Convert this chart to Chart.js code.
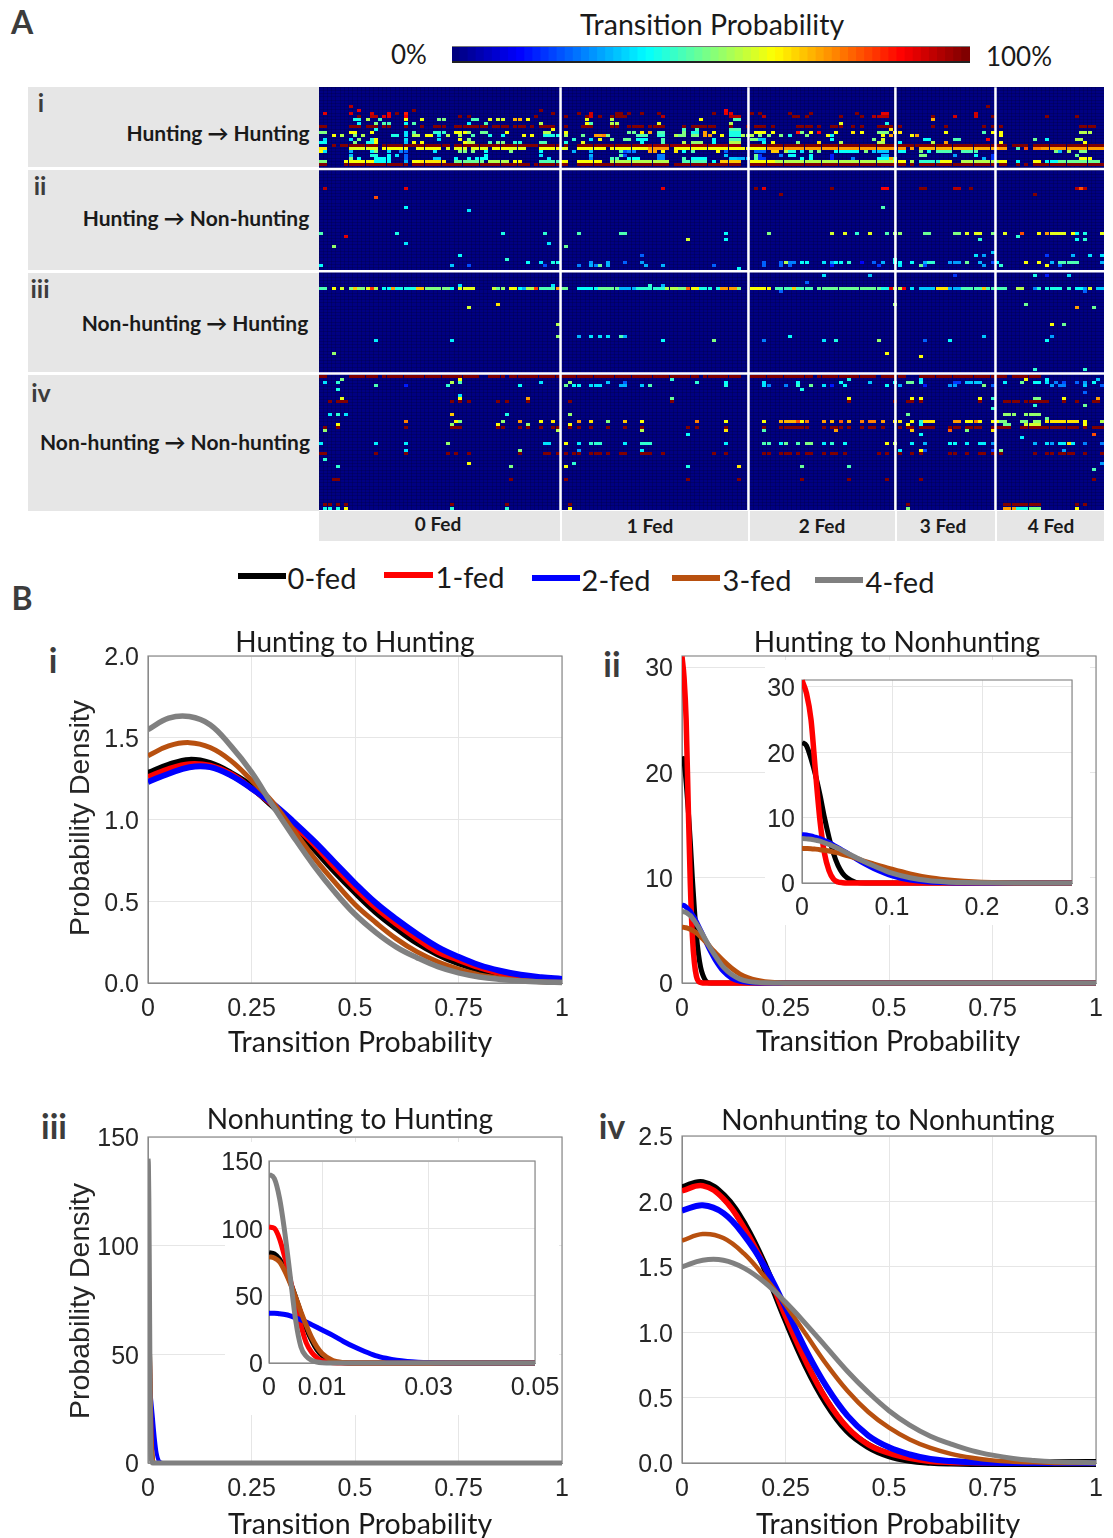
<!DOCTYPE html>
<html><head><meta charset="utf-8">
<script src="https://cdn.jsdelivr.net/npm/chart.js@4"></script>
<style>
html,body{margin:0;padding:0;background:#fff;width:1113px;height:1538px;overflow:hidden}
#stage{position:relative;width:1113px;height:1538px;overflow:hidden}
.t{position:absolute;white-space:nowrap;transform:translate(-50%,-50%);line-height:1}
.box{position:absolute}
canvas{position:absolute;display:block}
</style></head><body><div id="stage"></div>
<script>
/* ---------- heat-map data: [row, col,len,value, col,len,value, ...] ---------- */
const cellsHuntHunt=[
[6,7,1,95,158,1,100],
[7,9,1,90,22,1,100,52,1,100,96,1,88],
[8,1,1,90,7,1,92,12,1,92,16,1,90,18,1,100,20,1,85,55,1,100,61,1,100,64,1,92,70,2,100,73,1,100,76,1,100,80,1,100,93,1,100,96,2,90,102,1,100,104,1,100,111,1,100,116,1,100,127,1,100,133,2,90,155,1,92],
[9,9,1,100,12,2,95,15,2,90,20,1,88,33,1,100,35,1,100,51,1,100,58,1,100,63,1,100,64,1,92,66,1,100,69,4,100,81,1,95,97,3,95,105,1,95,112,2,100,115,1,100,123,1,100,128,1,100,131,4,95,145,1,100,150,1,92,155,1,92,159,1,100,172,1,100,179,1,100],
[10,8,2,40,11,1,55,14,1,45,20,1,62,24,1,60,28,2,50,36,2,45,40,1,60,42,2,58,46,2,70,49,1,62,63,1,60,69,1,55,90,1,62,98,2,45,145,1,70],
[11,9,1,38,13,1,50,15,2,45,20,1,38,22,1,45,35,1,38,39,1,45,52,1,55,63,1,62,64,1,45,69,2,55,80,1,60,97,1,55,123,1,60,134,1,40],
[12,0,2,100,7,3,100,11,3,100,15,2,100,20,1,100,24,1,100,27,3,100,32,3,100,35,5,100,41,3,100,44,1,100,46,3,100,50,1,100,52,4,100,58,1,100,62,3,100,69,2,100,73,3,100,76,1,100,78,4,100,86,1,100,88,6,100,97,1,100,101,1,100,103,3,100,107,1,100,113,3,100,116,1,100,118,1,100,121,3,100,126,1,100,128,1,100,132,4,100,137,1,100,145,1,100,148,1,100,157,1,100,159,1,100,161,1,100,180,4,100],
[13,13,1,40,55,1,62,86,1,45,89,1,45,97,3,45,135,1,65],
[14,0,2,50,7,2,62,12,1,62,20,1,35,22,1,45,27,3,42,32,3,62,35,1,52,38,2,48,44,1,62,53,2,55,58,1,62,73,2,48,76,1,65,78,1,72,80,2,45,86,1,50,88,2,40,91,1,72,93,1,62,97,3,40,103,3,62,107,1,62,113,1,85,114,1,50,116,1,62,118,1,88,122,1,62,126,1,65,128,1,62,132,3,50,136,2,65,148,1,62,157,1,45,159,1,62,161,1,62,180,3,55],
[15,3,1,62,5,1,55,8,1,50,10,1,55,17,2,40,20,1,35,22,2,55,25,2,62,28,1,35,30,1,55,33,1,55,36,1,45,40,1,40,43,1,38,48,1,62,50,1,62,53,4,40,58,1,55,62,1,48,65,2,72,67,1,75,68,1,50,75,3,45,80,2,42,84,1,55,85,2,50,88,2,50,91,2,72,95,1,62,97,3,40,100,3,55,104,1,50,106,1,50,109,1,50,111,1,40,115,1,50,120,1,62,121,1,38,133,1,62,135,1,72,140,1,62,141,1,72,161,1,62],
[16,1,1,35,7,1,35,9,1,50,12,1,42,13,1,62,20,1,35,28,1,35,33,1,62,35,1,50,60,1,42,64,1,35,66,1,62,69,1,50,72,2,48,75,3,38,81,1,45,93,1,38,97,3,45,102,2,50,104,2,32,121,1,38,131,1,50,133,1,60,143,2,38,150,2,45,158,1,88,169,1,48,172,1,38,179,2,55],
[17,0,2,38,8,1,50,11,2,40,13,1,62,20,1,32,22,1,62,24,1,62,34,1,62,35,2,55,40,1,45,42,2,50,46,2,42,52,2,45,58,1,40,62,1,60,76,1,38,81,1,45,86,1,55,88,3,52,93,1,38,97,3,55,105,1,38,107,1,62,113,1,50,118,1,65,123,1,55,132,2,55,137,1,38,145,1,55,148,1,72,161,1,62,181,1,62],
[18,3,1,100,5,9,100,15,16,100,32,13,100,45,12,100,58,1,100,61,17,100,78,22,98,102,35,100,137,3,100,140,23,100,164,4,100,169,2,100,171,15,100],
[19,0,2,65,7,7,60,15,6,62,23,6,62,30,1,60,32,3,60,36,4,60,41,4,62,45,4,60,52,5,62,57,2,60,61,7,62,69,9,62,78,5,72,84,16,62,100,6,62,106,30,72,136,3,72,140,1,72,142,19,70,161,2,72,165,1,45,167,1,80,169,2,75,171,15,72],
[20,0,1,62,1,1,35,7,1,30,12,1,38,13,1,50,16,1,35,19,1,25,20,1,22,27,1,35,33,2,50,36,1,50,39,1,38,45,1,50,52,1,38,60,1,30,64,1,30,71,1,45,72,1,20,73,2,25,78,2,72,81,1,62,84,1,65,86,1,38,88,1,45,94,1,62,96,1,22,103,3,22,107,2,68,110,1,55,111,2,40,114,1,35,116,1,45,118,1,50,122,6,38,129,1,50,131,4,32,137,2,38,142,1,50,144,1,38,146,4,45,152,4,45,174,1,50,175,1,30,177,1,55,180,2,50],
[21,7,1,32,12,2,40,16,1,38,18,1,35,20,1,22,39,1,38,52,1,35,64,1,30,71,1,45,72,1,20,80,2,25,96,1,32,103,1,48,104,1,18,109,1,25,111,2,38,116,1,38,121,1,15,133,2,30,142,2,50,150,1,28,155,1,38,159,1,18,179,1,48],
[22,7,1,50,9,1,38,13,4,38,20,1,22,27,2,32,32,1,38,35,1,38,37,3,38,54,1,35,64,1,25,69,2,45,73,3,38,80,2,25,86,1,45,88,4,38,97,3,32,99,3,30,103,1,45,104,2,18,114,1,38,116,1,38,121,1,15,126,1,25,132,3,38,135,1,70,136,1,50,157,1,30,159,1,18,180,3,62],
[23,0,2,50,6,7,62,13,4,38,20,1,30,22,2,62,24,6,65,32,7,48,40,5,55,46,2,62,52,5,45,57,2,62,61,6,62,69,14,55,86,6,45,93,1,38,95,5,68,102,6,62,108,28,55,136,3,62,140,1,55,142,5,42,147,3,62,152,9,55,161,2,62,165,1,38,169,2,62,172,3,38,175,10,48],
[24,0,2,100,6,15,100,22,18,100,40,9,100,49,1,100,51,6,100,57,2,100,61,7,100,68,15,100,84,16,100,102,34,100,136,3,100,140,1,100,142,18,100,161,2,100,165,1,100,167,1,100,169,2,100,171,15,100]
];
const cellsHuntNon=[
[31,1,1,95,20,1,90,81,1,90,103,1,100,105,1,90,121,1,100,133,2,88,142,2,100,150,2,95,154,1,100,179,1,95,180,1,80,181,1,95],
[33,109,1,100,169,1,100],
[34,13,1,80],
[37,20,1,37,133,1,45],
[38,35,1,35],
[45,0,1,45,18,1,40,43,1,40,53,1,42,61,1,45,71,2,45,96,1,38,106,1,50,121,1,58,124,1,60,127,1,42,130,1,60,134,1,45,136,2,52,143,2,48,150,2,50,153,1,60,155,2,60,159,1,50,162,1,60,166,1,80,170,1,62,172,1,72,173,4,60,178,1,62,179,1,38,181,1,40,185,1,60],
[46,6,1,90,165,1,42],
[47,87,1,58,96,1,38,156,1,42,179,1,38,181,1,42],
[48,20,1,35,54,1,35],
[49,3,1,52,58,1,48],
[51,159,1,32],
[52,33,1,38,76,1,22,155,1,35,157,1,28,172,1,18,178,1,30,182,1,35,185,1,35],
[53,44,1,42,136,1,40],
[54,49,1,38,52,1,35,55,2,40,64,1,28,68,1,30,72,1,22,76,1,28,105,1,22,109,1,22,110,1,55,111,2,25,114,2,38,119,1,35,121,1,28,122,2,38,125,1,42,128,1,12,131,1,22,133,1,30,136,2,38,140,1,38,143,1,30,144,2,42,149,3,28,153,1,48,156,1,30,159,1,20,160,1,38,167,1,62,170,1,62,173,1,30,175,5,45,185,1,30],
[55,0,1,38,31,1,32,35,1,20,53,1,20,61,1,25,64,1,30,65,1,25,66,1,48,68,1,30,77,1,30,81,1,30,93,1,22,105,1,22,109,1,22,111,1,22,121,1,15,132,1,18,137,1,35,142,1,48,143,1,20,157,1,28,161,1,42,172,1,62,175,1,22],
[56,99,1,38]
];
const cellsNonHunt=[
[58,119,1,35,130,1,32,150,1,18,169,1,40,172,1,15,177,1,35],
[60,115,1,22],
[61,33,1,35,55,1,35,78,1,42,81,1,30],
[62,0,2,45,3,1,62,5,1,58,7,1,50,8,1,68,9,1,52,10,1,50,11,1,60,12,1,82,13,1,55,15,2,38,17,1,72,18,5,40,23,2,68,25,6,50,31,1,38,33,4,60,41,1,58,42,1,48,43,1,52,45,2,62,47,1,38,48,1,30,49,2,55,51,1,82,52,4,45,56,1,72,57,2,48,61,5,38,66,5,48,71,4,30,75,7,42,82,3,55,85,2,50,87,1,78,88,2,62,90,1,40,91,2,40,94,1,40,95,4,72,99,1,50,102,5,62,108,4,45,112,1,68,113,4,45,118,15,48,133,2,40,135,1,90,136,2,55,138,1,88,140,1,35,142,5,32,146,3,65,149,3,30,152,5,45,157,1,68,158,5,45,165,2,55,169,1,25,170,1,42,172,4,40,177,1,42,179,2,38,181,1,28,182,1,60,184,2,32],
[63,109,1,22,181,1,22],
[67,42,1,65,136,1,52,167,1,48],
[68,35,1,58,179,1,72,183,1,48],
[73,56,1,55,173,1,62,176,1,48],
[77,56,1,52,61,1,30,64,1,35,66,1,35,68,1,35,71,1,45,72,1,30,111,1,38,157,1,32,173,1,28],
[78,13,1,36,31,1,36,81,1,38,93,1,50,105,1,25,119,1,35,122,1,40,132,1,52,143,1,22,149,1,38,172,1,38],
[82,3,1,52,134,1,62],
[83,142,1,62],
[87,169,1,42,181,1,42]
];
const cellsNonNon=[
[89,0,2,100,7,7,100,15,23,100,40,3,100,43,1,100,45,12,100,57,33,100,91,2,100,93,7,100,102,5,100,107,10,100,118,14,100,133,6,100,142,18,100,160,3,100,164,7,100],
[90,5,1,50,33,1,62,83,1,42,125,1,40,142,1,35,167,1,62,172,1,38,184,1,32],
[91,1,1,35,4,1,42,31,1,55,33,1,45,52,1,35,59,1,52,68,1,32,72,1,22,89,1,42,96,1,38,105,1,35,113,1,38,123,1,38,130,1,32,136,1,38,139,2,48,142,1,40,150,2,18,153,4,32,162,1,36,166,1,48,169,2,38,172,1,35,174,1,25,176,1,20,179,1,22,181,1,28,183,1,38],
[92,13,1,45,20,1,15,30,1,42,47,1,38,58,1,48,60,2,38,64,3,35,71,2,30,76,1,32,78,1,45,96,1,40,105,1,35,106,1,25,110,1,25,113,1,42,116,1,48,119,1,35,121,1,15,124,1,38,134,1,38,137,1,30,143,1,15,149,2,28,157,1,50,159,1,22,173,1,28,175,2,25,181,1,32,185,1,22],
[93,4,1,40,114,1,40],
[94,181,1,22],
[95,33,1,35],
[96,5,1,60,33,1,62,49,1,72,83,1,48,125,1,62,140,1,62,142,1,62,156,1,62,159,1,42,169,2,50,176,1,62,184,1,72],
[97,2,1,100,4,3,100,31,1,100,33,1,100,35,1,100,42,1,100,44,1,100,49,1,100,59,1,100,83,1,100,125,1,100,136,1,100,139,2,100,142,1,100,156,1,100,162,4,100,167,6,100,176,1,100,179,1,100,183,2,100],
[98,169,1,42,181,1,48],
[99,159,1,42],
[101,2,1,36,4,1,42,6,1,35,31,1,68,44,1,40,59,1,52,139,1,48,162,3,52,167,4,52],
[102,172,1,48],
[103,20,1,75,32,1,62,33,1,50,43,1,52,47,1,72,52,1,62,55,1,65,61,1,72,64,1,65,68,1,50,72,1,68,76,1,62,89,1,75,96,1,62,105,1,62,109,4,70,113,1,80,114,1,62,115,1,75,119,1,72,121,1,70,123,1,78,125,1,70,128,1,75,130,2,75,133,1,72,136,2,65,140,1,62,142,1,42,143,3,65,150,2,72,153,2,62,155,1,75,156,1,62,159,2,62,161,2,50,166,2,50,169,2,52,172,8,65,181,1,62,185,1,55],
[104,4,1,62,31,1,52,42,1,62,49,1,52,59,1,62,139,1,62,142,1,38,162,2,48,167,4,58,181,1,62],
[105,1,1,100,4,1,100,20,1,100,31,3,100,42,2,100,47,1,100,49,1,100,52,1,100,55,2,100,59,1,100,61,1,100,64,1,100,68,1,100,72,1,100,76,1,100,87,1,100,89,1,100,96,1,100,105,1,100,109,4,100,113,3,100,119,1,100,121,3,100,125,1,100,128,1,100,130,2,100,133,1,100,137,1,100,139,2,100,142,4,100,149,3,100,153,4,100,159,1,100,160,4,100,166,14,100,181,1,100,183,3,100],
[106,1,1,52,56,1,55,76,1,55,96,1,65,105,1,45,122,1,72,140,1,68,149,1,78,153,1,50,159,1,65],
[107,87,1,38,142,1,38,183,1,80],
[108,166,1,36],
[110,0,1,36,13,1,36,20,1,36,30,1,52,53,2,35,58,1,62,61,1,36,64,3,42,72,1,36,76,3,42,96,1,36,105,2,45,109,1,38,110,1,48,113,1,45,115,2,50,119,1,36,121,1,42,124,1,38,134,1,62,136,1,55,140,1,36,143,1,30,149,2,38,153,1,36,156,2,36,159,1,28,169,1,30,172,1,35,173,1,28,175,2,36,177,1,65,178,1,36,181,1,25,185,1,25],
[112,20,1,35,47,1,50,61,1,28,76,1,36,137,1,36,142,1,62,143,1,20,159,1,18,161,1,50,176,1,28],
[113,0,2,100,13,1,100,20,1,100,30,1,100,32,1,100,35,1,100,47,1,100,53,2,100,56,1,100,58,1,100,60,2,100,64,3,100,68,1,100,71,2,100,76,3,100,81,1,100,93,1,100,96,1,100,105,2,100,109,3,100,113,1,100,115,2,100,119,1,100,121,2,100,124,1,100,132,1,100,134,1,100,137,1,100,140,1,100,142,1,100,149,2,100,153,1,100,156,2,100,159,1,100,161,1,100,169,1,100,172,2,100,175,4,100,181,1,100,185,1,100],
[115,1,1,42],
[116,35,1,62,60,1,42,185,1,28],
[117,4,1,42,45,1,50,58,1,62,87,1,40,99,1,65,114,1,48,125,1,45],
[118,183,1,45],
[121,3,2,100,45,1,100,58,1,100,87,1,100,99,1,100,114,1,100,125,1,100,134,1,100,142,1,100,183,1,100],
[129,1,2,100,4,1,100,6,1,100,31,1,100,44,1,100,59,1,100,139,1,100,162,9,100,179,1,100,181,1,100],
[130,1,2,40,4,1,40,6,1,62,31,1,42,44,1,42,59,1,62,139,1,50,162,3,72,165,3,40,168,3,50,179,1,62]
];
const columnSeparators=[57.2,101.7,136.5,160.2];
const rowSeparators=[25.4,57.2,89.0];
const fedGroups=['0 Fed','1 Fed','2 Fed','3 Fed','4 Fed'];
const fedSeries=['0-fed','1-fed','2-fed','3-fed','4-fed'];
const fedColors=['#000000','#ff0000','#0000ff','#b8500f','#808080'];

/* ---------- density curves ---------- */
const xHH=[0,.05,.1,.15,.2,.25,.3,.35,.4,.45,.5,.55,.6,.65,.7,.75,.8,.85,.9,.95,1];
const hhFed0=[1.28,1.33,1.36,1.34,1.28,1.20,1.09,.97,.83,.69,.56,.44,.34,.25,.18,.125,.085,.055,.035,.02,.012];
const hhFed1=[1.26,1.31,1.34,1.33,1.28,1.19,1.09,.97,.85,.71,.58,.46,.36,.27,.19,.14,.095,.06,.04,.025,.015];
const hhFed2=[1.23,1.28,1.32,1.32,1.27,1.19,1.10,.99,.87,.74,.61,.49,.39,.30,.22,.16,.11,.075,.05,.035,.025];
const hhFed3=[1.39,1.45,1.47,1.44,1.36,1.24,1.11,.94,.77,.62,.48,.37,.27,.19,.13,.085,.05,.03,.015,.008,.004];
const hhFed4=[1.55,1.62,1.63,1.58,1.45,1.29,1.09,.90,.72,.56,.42,.31,.22,.155,.10,.062,.037,.022,.012,.006,.003];

const xHN=[0,.005,.01,.015,.02,.025,.03,.035,.04,.045,.05,.06,.07,.08,.1,.12,.14,.16,.18,.2,.25,.3,.5,1];
const hnFed0=[21.5,21,19,16.5,13.5,10,7,4.5,2.7,1.5,.8,.1,0,0,0,0,0,0,0,0,0,0,0,0];
const hnFed1=[31,29,25,17,9.5,4.5,1.9,.6,.15,.05,0,0,0,0,0,0,0,0,0,0,0,0,0,0];
const hnFed2=[7.4,7.35,7.2,7.0,6.8,6.5,6.2,5.8,5.4,5.0,4.6,3.7,2.9,2.2,1.1,.45,.15,.05,.01,0,0,0,0,0];
const hnFed3=[5.3,5.28,5.25,5.18,5.1,5,4.9,4.75,4.6,4.4,4.2,3.8,3.3,2.9,2.1,1.4,.85,.5,.27,.13,.01,0,0,0];
const hnFed4=[6.8,6.75,6.7,6.55,6.4,6.15,5.9,5.6,5.3,4.95,4.6,3.9,3.2,2.6,1.5,.8,.37,.15,.06,.02,0,0,0,0];

const xNH=[0,.001,.002,.003,.004,.005,.006,.007,.008,.009,.01,.012,.014,.016,.018,.02,.022,.024,.026,.028,.03,.035,.04,.05,1];
const nhFed0=[82,81,77,70,60,49,37,26,17,10,5.5,1.2,.2,0,0,0,0,0,0,0,0,0,0,0,0];
const nhFed1=[101,100,92,78,62,45,28,15,8,4,1.8,.2,0,0,0,0,0,0,0,0,0,0,0,0,0];
const nhFed2=[37,37,36.5,36,35,33.5,32,30.5,28.5,26.5,24.5,20.5,16,12,8.5,5.5,3.5,2,1.1,.6,.3,.03,0,0,0];
const nhFed3=[79,78,75,68,59,49,38,28,19,12,7,1.8,.3,.05,0,0,0,0,0,0,0,0,0,0,0];
const nhFed4=[140,137,122,96,64,32,12,5,2,.7,.2,0,0,0,0,0,0,0,0,0,0,0,0,0,0];

const xNN=[0,.05,.1,.15,.2,.25,.3,.35,.4,.45,.5,.55,.6,.65,.7,.75,.8,.85,.9,.95,1];
const nnFed0=[2.10,2.14,2.04,1.82,1.50,1.11,.75,.46,.25,.13,.06,.025,.01,.003,0,0,0,0,0,0,0];
const nnFed1=[2.08,2.12,2.02,1.80,1.50,1.12,.77,.48,.27,.14,.075,.035,.012,.004,.001,0,0,0,0,0,0];
const nnFed2=[1.93,1.97,1.91,1.74,1.50,1.19,.86,.58,.36,.21,.12,.065,.03,.015,.006,.002,0,0,0,0,0];
const nnFed3=[1.70,1.75,1.72,1.60,1.42,1.21,.98,.75,.55,.39,.27,.18,.115,.07,.04,.02,.01,.005,0,0,0];
const nnFed4=[1.50,1.55,1.55,1.49,1.38,1.23,1.06,.88,.70,.54,.40,.29,.205,.145,.095,.06,.035,.02,.01,.005,.002];

/* ---------- tick labels ---------- */
const mainXTicks=[0,.25,.5,.75,1], mainXLabels=['0','0.25','0.5','0.75','1'];
const hhYTicks=[0,.5,1,1.5,2], hhYLabels=['0.0','0.5','1.0','1.5','2.0'];
const hnYTicks=[0,10,20,30], hnYLabels=['0','10','20','30'];
const nhYTicks=[0,50,100,150], nhYLabels=['0','50','100','150'];
const nnYTicks=[0,.5,1,1.5,2,2.5], nnYLabels=['0.0','0.5','1.0','1.5','2.0','2.5'];
const hnInsetXTicks=[0,.1,.2,.3], hnInsetXLabels=['0','0.1','0.2','0.3'];
const nhInsetXTicks=[0,.01,.03,.05], nhInsetXLabels=['0','0.01','0.03','0.05'];
const colorbarSteps=Array.from({length:64},(_,i)=>i);

/* ---------- helpers ---------- */
const stage=document.getElementById('stage');
Chart.defaults.animation=false;
Chart.defaults.responsive=false;
Chart.defaults.plugins.legend.display=false;
Chart.defaults.plugins.tooltip.enabled=false;
function clamp(v){return Math.max(0,Math.min(1,v));}
function jet(v){const t=v/100;const f=c=>Math.round(255*clamp(1.5-Math.abs(4*t-c)));return `rgb(${f(3)},${f(2)},${f(1)})`;}
function text(s,x,y,size,opts={}){
  const e=document.createElement('div');e.className='t';e.textContent=s;
  e.style.left=x+'px';e.style.top=y+'px';e.style.fontSize=size+'px';
  e.style.fontFamily=opts.font||'Lato';e.style.fontWeight=opts.weight||400;e.style.color=opts.color||'#1a1a1a';
  let tr='translate(-50%,-50%)';
  if(opts.rotate)tr+=` rotate(${opts.rotate}deg)`;
  e.style.transform=tr;
  stage.appendChild(e);return e;
}
function rect(x,y,w,h,c){const e=document.createElement('div');e.className='box';e.style.cssText=`left:${x}px;top:${y}px;width:${w}px;height:${h}px;background:${c}`;stage.appendChild(e);return e;}
function canvas(x,y,w,h,bg){const c=document.createElement('canvas');c.width=w;c.height=h;c.style.left=x+'px';c.style.top=y+'px';c.style.width=w+'px';c.style.height=h+'px';if(bg)c.style.background=bg;stage.appendChild(c);return c;}

/* ---------- panel A: labels ---------- */
rect(28,87,291,424,'#e6e6e6');
rect(319,511,785,30,'#e6e6e6');
[168.5,271,373.5].forEach(y=>rect(28,y-1.5,291,3,'#fff'));
[561,749,896,996].forEach(x=>rect(x-1.25,511,2.5,30,'#fff'));
const dk='#3c3c3c';
text('A',22,22,32,{weight:700,color:dk});
text('Transition Probability',712,24,28.5);
text('0%',409,54,26);text('100%',1019,56,26);
text('i',41,102,25,{weight:700,color:dk});
text('ii',40,185,25,{weight:700,color:dk});
text('iii',40,288,25,{weight:700,color:dk});
text('iv',41,392,25,{weight:700,color:dk});
text('Hunting \u2192 Hunting',218,132,21,{weight:700});
text('Hunting \u2192 Non-hunting',196,217,21,{weight:700});
text('Non-hunting \u2192 Hunting',195,322,21,{weight:700});
text('Non-hunting \u2192 Non-hunting',175,441,21,{weight:700});
[438,650,822,943,1051].forEach((x,i)=>text(fedGroups[i],x,i==0?523:525,19,{weight:700}));

/* colour bar */
new Chart(canvas(452,47,518,15),{type:'bar',
 data:{labels:colorbarSteps,datasets:[{data:colorbarSteps.map(()=>1),backgroundColor:colorbarSteps.map(i=>jet(i/63*100)),borderWidth:0,barPercentage:1.15,categoryPercentage:1}]},
 options:{layout:{padding:0,autoPadding:false},scales:{x:{display:false},y:{display:false,min:0,max:1}}}});
rect(452,46,518,1,'#777');rect(452,61,518,1.5,'#222');

/* heat map */
const cellImgs={};
function cellImg(v){if(!cellImgs[v]){const c=document.createElement('canvas');c.width=4;c.height=3;const g=c.getContext('2d');g.fillStyle=jet(v);g.fillRect(0,0,4,3);cellImgs[v]=c;}return cellImgs[v];}
function expand(rows,off){const out=[];rows.forEach(r=>{for(let i=1;i<r.length;i+=3){for(let k=0;k<r[i+1];k++)out.push({x:r[i]+k+.5,y:r[0]+off,v:r[i+2]});}});return out;}
function cellDataset(rows,off){return{type:'scatter',data:expand(rows,off),pointRadius:3,pointHoverRadius:3,pointStyle:c=>c.raw?cellImg(c.raw.v):'rect',order:2,clip:false};}
const rowMax=131.4,colMax=185.9;
const sepDatasets=[
 ...columnSeparators.map(c=>({type:'scatter',showLine:true,data:[{x:c,y:0},{x:c,y:rowMax}],borderColor:'#fff',borderWidth:2.5,pointRadius:0,order:1})),
 ...rowSeparators.map(r=>({type:'scatter',showLine:true,data:[{x:0,y:r},{x:colMax,y:r}],borderColor:'#fff',borderWidth:2.5,pointRadius:0,order:1}))
];
const heatCanvas=canvas(319,87,785,423,'#000082');
heatCanvas.style.filter='blur(0.55px)';
new Chart(heatCanvas,{type:'scatter',
 data:{datasets:[cellDataset(cellsHuntHunt,.1),cellDataset(cellsHuntNon,.4),cellDataset(cellsNonHunt,.6),cellDataset(cellsNonNon,.8),...sepDatasets]},
 options:{layout:{padding:0,autoPadding:false},scales:{
  x:{type:'linear',min:0,max:colMax,position:'bottom',afterFit:a=>{a.height=0},border:{display:false},grid:{drawTicks:false,color:'rgba(0,0,60,.5)',lineWidth:.6},ticks:{display:false,stepSize:1,autoSkip:false}},
  y:{type:'linear',reverse:true,min:-.1,max:rowMax,afterFit:a=>{a.width=0},border:{display:false},grid:{drawTicks:false,color:'rgba(0,0,60,.5)',lineWidth:.6},ticks:{display:false,stepSize:1,autoSkip:false}}
 }}});

/* ---------- panel B: legend and labels ---------- */
[[238,576,286,289],[384,575,433,437],[532,578,580,583],[672,578,720,724],[815,580,863,867]].forEach((p,i)=>{
  rect(p[0],p[1]-3,p[2]-p[0],6,fedColors[i]);
  text(fedSeries[i],(p[3]+ (p[3]+66))/2,p[1]+1,29,{color:'#1a1a1a'});
});
text('B',22,598,32,{weight:700,color:dk});
text('i',53,660,34,{weight:700,color:dk});
text('ii',612,664,34,{weight:700,color:dk});
text('iii',54,1126,34,{weight:700,color:dk});
text('iv',612,1126,34,{weight:700,color:dk});

/* curve charts */
const boxPlugin={id:'box',beforeDatasetsDraw(ch){const a=ch.chartArea,g=ch.ctx;g.save();g.strokeStyle='#8a8a8a';g.lineWidth=1.2;g.strokeRect(a.left,a.top,a.right-a.left,a.bottom-a.top);g.restore();}};
function curveChart(cfg){
  const {plot,left,x,series,xMax,yMax,xTicks,xLabels,yTicks,yLabels,widths,white}=cfg;
  if(white)rect(white.l,white.t,white.r-white.l,white.b-white.t,'#fff');
  const LM=plot.l-left,TM=30,RM=40,BM=46;
  const ticksFont={family:'"Liberation Sans"',size:cfg.fs||25};
  new Chart(canvas(left,plot.t-TM,plot.r+RM-left,plot.b+BM-plot.t+TM),{type:'line',
   data:{datasets:series.map((s,i)=>({label:fedSeries[i],data:x.map((v,k)=>({x:v,y:s[k]})),borderColor:fedColors[i],borderWidth:widths[i],pointRadius:0,
      ...(cfg.smooth?{tension:.4}:{cubicInterpolationMode:'monotone'}),order:5-i,clip:{left:0,right:0,top:8,bottom:8}}))},
   options:{parsing:false,layout:{padding:{left:0,top:TM,right:RM,bottom:0},autoPadding:false},
    scales:{
     x:{type:'linear',min:0,max:xMax,afterBuildTicks:a=>{a.ticks=xTicks.map(v=>({value:v}))},afterFit:a=>{a.height=BM},
        border:{color:'#8a8a8a'},grid:{drawTicks:false,color:'#e6e6e6'},
        ticks:{callback:(v,i)=>xLabels[i],font:ticksFont,color:'#262626',padding:cfg.xpad||11,autoSkip:false,maxRotation:0,minRotation:0}},
     y:{type:'linear',min:0,max:yMax,afterBuildTicks:a=>{a.ticks=yTicks.map(v=>({value:v}))},afterFit:a=>{a.width=LM},
        border:{color:'#8a8a8a'},grid:{drawTicks:false,color:'#e6e6e6'},
        ticks:{callback:(v,i)=>yLabels[i],font:ticksFont,color:'#262626',padding:cfg.ypad||9,labelOffset:2.5,autoSkip:false,maxRotation:0,minRotation:0}}
    }},plugins:[boxPlugin]});
}
const W5=[7.5,5.5,6,5,5.5];
// i
curveChart({plot:{l:148,t:656,r:562,b:983},left:90,smooth:true,x:xHH,series:[hhFed0,hhFed1,hhFed2,hhFed3,hhFed4],xMax:1,yMax:2,xTicks:mainXTicks,xLabels:mainXLabels,yTicks:hhYTicks,yLabels:hhYLabels,widths:W5});
// ii main
curveChart({plot:{l:682,t:656,r:1096,b:983},left:625,x:xHN,series:[hnFed0,hnFed1,hnFed2,hnFed3,hnFed4],xMax:1,yMax:31.05,xTicks:mainXTicks,xLabels:mainXLabels,yTicks:hnYTicks,yLabels:hnYLabels,widths:[5,5.5,5,5,5]});
// ii inset
curveChart({plot:{l:802,t:680,r:1072,b:883},left:745,white:{l:765,t:660,r:1090,b:925},x:xHN,series:[hnFed0,hnFed1,hnFed2,hnFed3,hnFed4],xMax:.3,yMax:31.05,xTicks:hnInsetXTicks,xLabels:hnInsetXLabels,yTicks:hnYTicks,yLabels:hnYLabels,widths:[5,5.5,5,5,5],ypad:7,xpad:10});
// iii main
curveChart({plot:{l:148,t:1137,r:562,b:1463},left:90,x:xNH,series:[nhFed0,nhFed1,nhFed2,nhFed3,nhFed4],xMax:1,yMax:150,xTicks:mainXTicks,xLabels:mainXLabels,yTicks:nhYTicks,yLabels:nhYLabels,widths:[4,4,4,4,5]});
// iii inset
curveChart({plot:{l:269,t:1161,r:535,b:1363},left:212,white:{l:225,t:1142,r:559,b:1415},x:xNH,series:[nhFed0,nhFed1,nhFed2,nhFed3,nhFed4],xMax:.05,yMax:150,xTicks:nhInsetXTicks,xLabels:nhInsetXLabels,yTicks:nhYTicks,yLabels:nhYLabels,widths:[5,5,5,5,5],ypad:6,xpad:10});
// iv
curveChart({plot:{l:682,t:1136,r:1096,b:1463},left:625,smooth:true,x:xNN,series:[nnFed0,nnFed1,nnFed2,nnFed3,nnFed4],xMax:1,yMax:2.5,xTicks:mainXTicks,xLabels:mainXLabels,yTicks:nnYTicks,yLabels:nnYLabels,widths:[8,5.5,6,4.5,5]});

/* titles & axis labels */
text('Hunting to Hunting',355,641,28);
text('Hunting to Nonhunting',897,641,28);
text('Nonhunting to Hunting',350,1118,28);
text('Nonhunting to Nonhunting',888,1119,28);
text('Transition Probability',360,1041,28.5);
text('Transition Probability',888,1040,28.5);
text('Transition Probability',360,1523,28.5);
text('Transition Probability',888,1523,28.5);
text('Probability Density',79,818,28.5,{rotate:-90,font:'"Liberation Sans"',color:'#262626'});
text('Probability Density',79,1301,28.5,{rotate:-90,font:'"Liberation Sans"',color:'#262626'});
</script></body></html>
